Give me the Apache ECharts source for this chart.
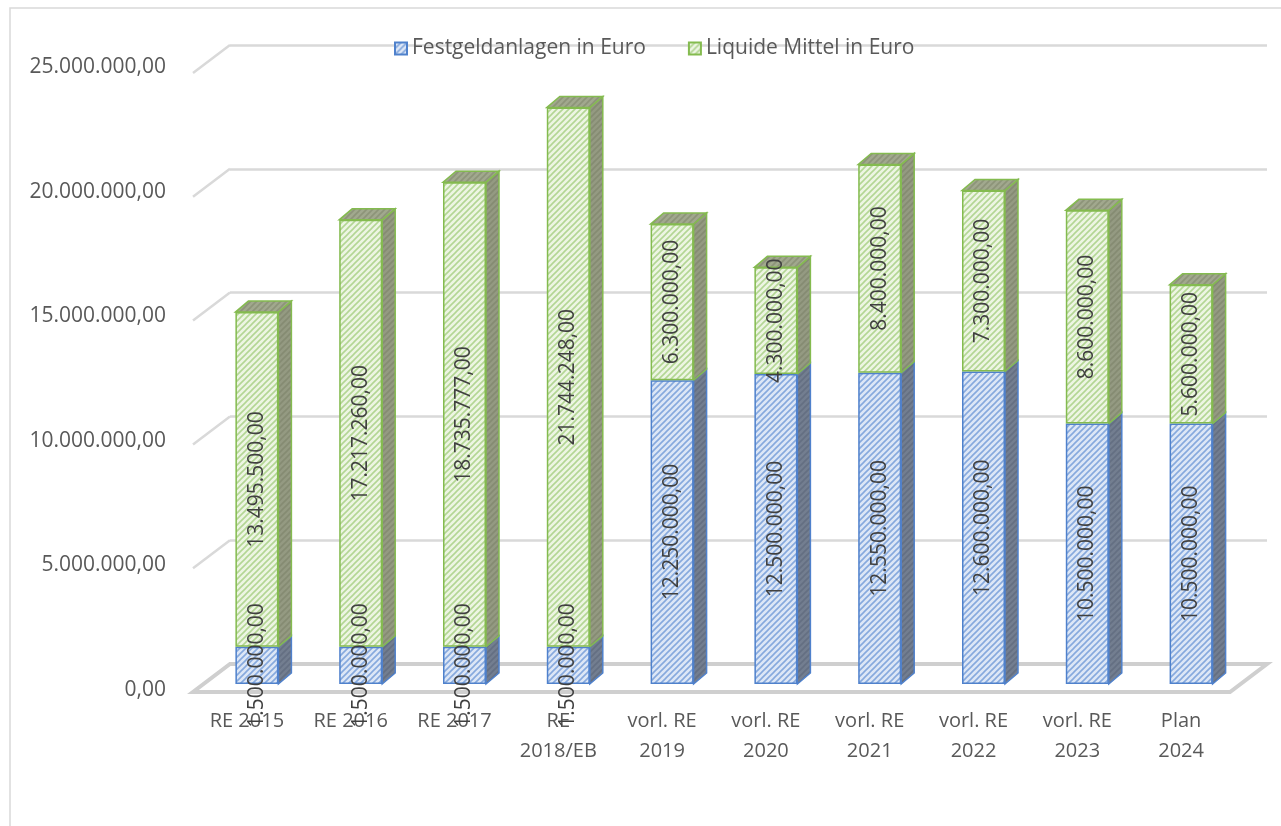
<!DOCTYPE html>
<html lang="de">
<head>
    <meta charset="UTF-8">
    <title>Festgeld und liquide Mittel</title>
    <script type="text/javascript" src="https://cdn.jsdelivr.net/npm/echarts@6/dist/echarts.min.js"></script>
    <style>
        html, body { margin: 0; padding: 0; background: #fff; }
        #main { width: 1281px; height: 826px; }
    </style>
</head>
<body>
<div id="main"></div>
<script type="text/javascript">
    var categories = ['RE 2015', 'RE 2016', 'RE 2017', 'RE\n2018/EB', 'vorl. RE\n2019', 'vorl. RE\n2020',
        'vorl. RE\n2021', 'vorl. RE\n2022', 'vorl. RE\n2023', 'Plan\n2024'];
    var festgeld = [1500000, 1500000, 1500000, 1500000, 12250000, 12500000, 12550000, 12600000, 10500000, 10500000];
    var liquide = [13495500, 17217260, 18735777, 21744248, 6300000, 4300000, 8400000, 7300000, 8600000, 5600000];
    var yTicks = [0, 5000000, 10000000, 15000000, 20000000, 25000000];

    // German number format: 13.495.500,00
    function fmt(v) {
        var parts = Number(v).toFixed(2).split('.');
        return parts[0].replace(/\B(?=(\d{3})+(?!\d))/g, '.') + ',' + parts[1];
    }

    // small hatch tile, stripes like "/"
    function hatch(bg, fg) {
        var c = document.createElement('canvas');
        c.width = 6; c.height = 6;
        var g = c.getContext('2d');
        g.fillStyle = bg;
        g.fillRect(0, 0, 6, 6);
        g.strokeStyle = fg;
        g.lineWidth = 1.6;
        g.beginPath();
        g.moveTo(-1, 7); g.lineTo(7, -1);
        g.moveTo(-1, 1); g.lineTo(1, -1);
        g.moveTo(5, 7); g.lineTo(7, 5);
        g.stroke();
        return { image: c, repeat: 'repeat' };
    }

    var blueFront = hatch('#dde7f6', '#86a9dd');
    var greenFront = hatch('#edf5e3', '#b3d694');
    var blueSide = hatch('#737e90', '#646f82');
    var greenSide = hatch('#949a82', '#858b72');
    var greenTop = hatch('#a1a88e', '#8d9479');

    var DX = 13, DY = -11, HALF = 21.5;   // bar depth and half width
    var FX = -37, FY = 28;                 // floor / side wall depth

    var txt = '#595959';
    var font = 'Open Sans';

    // side and top faces of the stacked bars
    var faceData = [];
    for (var i = 0; i < categories.length; i++) {
        faceData.push([i, 0, festgeld[i], 0]);
        faceData.push([i, festgeld[i], festgeld[i] + liquide[i], 1]);
    }

    var myChart = echarts.init(document.getElementById('main'));

    var option = {
        animation: false,
        textStyle: { fontFamily: font },
        graphic: [{
            type: 'rect',
            shape: { x: 10, y: 8, width: 1400, height: 1000 },
            style: { fill: null, stroke: '#d9d9d9', lineWidth: 1.5 },
            z: -10
        }],
        legend: {
            left: 389,
            top: 33,
            itemWidth: 12,
            itemHeight: 12,
            itemGap: 42,
            icon: 'rect',
            textStyle: { color: txt, fontSize: 21, fontFamily: font },
            data: ['Festgeldanlagen in Euro', 'Liquide Mittel in Euro']
        },
        grid: [
            // front face of bars
            { left: 205, right: 38, top: 64, bottom: 142 },
            // back wall
            { left: 230, right: 14, top: 45, bottom: 162 },
            // y labels
            { left: 174, right: 38, top: 67, bottom: 136 },
            // x labels
            { left: 195, right: 48, top: 64, bottom: 142 }
        ],
        xAxis: [
            { gridIndex: 0, type: 'category', data: categories, show: false },
            { gridIndex: 1, type: 'value', min: 0, max: 1, show: false },
            { gridIndex: 2, type: 'category', data: categories, show: false },
            {
                gridIndex: 3, type: 'category', data: categories,
                axisLine: { show: false }, axisTick: { show: false },
                axisLabel: { color: txt, fontSize: 20, lineHeight: 30, margin: 22, interval: 0, fontFamily: font }
            }
        ],
        yAxis: [
            { gridIndex: 0, type: 'value', min: 0, max: 25000000, show: false },
            {
                gridIndex: 1, type: 'value', min: 0, max: 25000000, interval: 5000000,
                axisLine: { show: false }, axisTick: { show: false }, axisLabel: { show: false },
                splitLine: { lineStyle: { color: '#d9d9d9', width: 2.5 } }
            },
            {
                gridIndex: 2, type: 'value', min: 0, max: 25000000, interval: 5000000,
                axisLine: { show: false }, axisTick: { show: false }, splitLine: { show: false },
                axisLabel: { color: txt, fontSize: 21, margin: 8, fontFamily: font, formatter: fmt }
            },
            { gridIndex: 3, type: 'value', min: 0, max: 25000000, show: false }
        ],
        series: [
            {
                // floor and side wall lines
                type: 'custom',
                xAxisIndex: 1, yAxisIndex: 1,
                silent: true,
                z: 1,
                data: yTicks.map(function (t) { return [t]; }),
                renderItem: function (params, api) {
                    var v = api.value(0);
                    var l = api.coord([0, v]);
                    var children = [{
                        type: 'line',
                        shape: { x1: l[0], y1: l[1], x2: l[0] + FX, y2: l[1] + FY },
                        style: { stroke: '#d9d9d9', lineWidth: 2.5 }
                    }];
                    if (v === 0) {
                        var r = api.coord([1, 0]);
                        children.push({
                            type: 'polygon',
                            shape: { points: [[l[0], l[1]], [r[0], r[1]], [r[0] + FX, r[1] + FY], [l[0] + FX, l[1] + FY]] },
                            style: { fill: null, stroke: '#cfcfcf', lineWidth: 4 }
                        });
                    }
                    return { type: 'group', children: children };
                }
            },
            {
                name: 'Festgeldanlagen in Euro',
                type: 'bar',
                stack: 'total',
                barWidth: 43,
                z: 3,
                itemStyle: { color: blueFront, borderColor: '#4f81cc', borderWidth: 1.5 },
                label: {
                    show: true, position: 'inside', rotate: 90, color: '#404040',
                    fontSize: 21, fontFamily: font, overflow: 'none',
                    formatter: function (p) { return fmt(p.value); }
                },
                data: festgeld
            },
            {
                name: 'Liquide Mittel in Euro',
                type: 'bar',
                stack: 'total',
                barWidth: 43,
                z: 3,
                itemStyle: { color: greenFront, borderColor: '#84bb4f', borderWidth: 1.5 },
                label: {
                    show: true, position: 'inside', rotate: 90, color: '#404040',
                    fontSize: 21, fontFamily: font, overflow: 'none',
                    formatter: function (p) { return fmt(p.value); }
                },
                data: liquide
            },
            {
                // 3D side and top faces
                type: 'custom',
                silent: true,
                z: 2,
                data: faceData,
                renderItem: function (params, api) {
                    var b = api.coord([api.value(0), api.value(1)]);
                    var t = api.coord([api.value(0), api.value(2)]);
                    var green = api.value(3) === 1;
                    var xr = b[0] + HALF, xl = b[0] - HALF;
                    var edge = green ? '#84bb4f' : '#4f81cc';
                    var children = [{
                        type: 'polygon',
                        shape: { points: [[xr, b[1]], [xr + DX, b[1] + DY], [xr + DX, t[1] + DY], [xr, t[1]]] },
                        style: { fill: green ? greenSide : blueSide, stroke: edge, lineWidth: 1.5 }
                    }];
                    if (green) {
                        children.push({
                            type: 'polygon',
                            shape: { points: [[xl, t[1]], [xr, t[1]], [xr + DX, t[1] + DY], [xl + DX, t[1] + DY]] },
                            style: { fill: greenTop, stroke: edge, lineWidth: 1.5 }
                        });
                    }
                    return { type: 'group', children: children };
                }
            }
        ]
    };
    myChart.setOption(option);
</script>
</body>
</html>
